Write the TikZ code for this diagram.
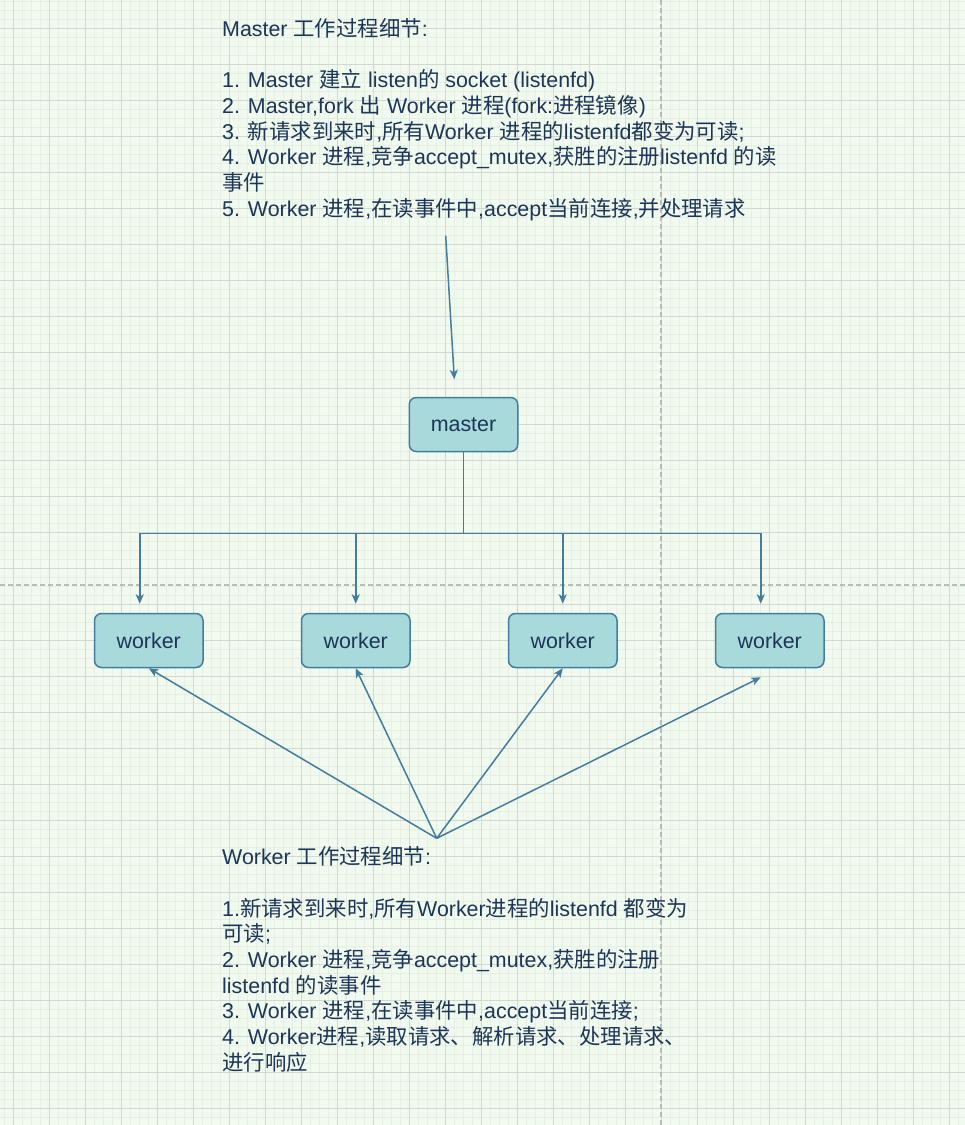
\documentclass[tikz,border=0pt]{standalone}
\usepackage{fontspec}
\setmainfont{Liberation Sans}
\newfontfamily\latinfont{Liberation Sans}
\newfontfamily\cjkfont{Noto Sans CJK SC}
\usetikzlibrary{arrows.meta,calc}
\newcount\cjkcnt
\newXeTeXintercharclass\cjkclass
\def\setcjkrange#1#2{\cjkcnt=#1\relax\loop\XeTeXcharclass\cjkcnt=\cjkclass\advance\cjkcnt by 1\relax\ifnum\cjkcnt<#2\relax\repeat}
\setcjkrange{"4E00}{"A000}
\setcjkrange{"3000}{"3040}
\setcjkrange{"FF00}{"FFF0}
\XeTeXinterchartoks 0 \cjkclass = {\cjkfont}
\XeTeXinterchartoks 4095 \cjkclass = {\cjkfont}
\XeTeXinterchartoks \cjkclass 0 = {\latinfont}
\XeTeXinterchartoks \cjkclass 4095 = {\latinfont}
\XeTeXinterchartokenstate=1
\definecolor{bg}{HTML}{F1FAEE}
\definecolor{gridmin}{HTML}{E7EFE4}
\definecolor{gridmaj}{HTML}{D2D8D1}
\definecolor{pagebrk}{HTML}{BBBBBB}
\definecolor{nfill}{HTML}{A8DADC}
\definecolor{nstroke}{HTML}{457B9D}
\definecolor{ntext}{HTML}{1D3557}
\begin{document}
\begin{tikzpicture}[x=1pt,y=-1pt,
  proc/.style={draw=nstroke,fill=nfill,line width=1.5pt,rounded corners=7pt,
    minimum width=108.5pt,minimum height=54pt,inner sep=0pt,
    font=\fontsize{21.4}{25.7}\selectfont,text=ntext},
  conn/.style={draw=nstroke,line width=1.5pt,-{Stealth[length=9.5pt,width=8pt,inset=2.5pt]}},
  note/.style={anchor=north west,inner sep=0pt,align=left,text=ntext,
    font=\fontsize{21.4}{25.7}\selectfont},
  gmin/.style={draw=gridmin,line width=1pt},
  gmaj/.style={draw=gridmaj,line width=1pt},
  pbreak/.style={draw=pagebrk,line width=1.2pt,dash pattern=on 5pt off 3pt}]
\useasboundingbox (0,0) rectangle (965,1125);
\fill[bg] (0,0) rectangle (965,1125);
\foreach \i in {0,...,106} \draw[gmin] ({4.3+9*\i},0) -- ({4.3+9*\i},1125);
\foreach \i in {0,...,124} \draw[gmin] (0,{1.3+9*\i}) -- (965,{1.3+9*\i});
\foreach \i in {0,...,26} \draw[gmaj] ({13.3+36*\i},0) -- ({13.3+36*\i},1125);
\foreach \i in {0,...,30} \draw[gmaj] (0,{28.3+36*\i}) -- (965,{28.3+36*\i});
\draw[pbreak] (0,585) -- (965,585);
\draw[pbreak] (661,0) -- (661,1125);

\node[note] (mnote) at (222,16) {\rule{0pt}{20pt}Master 工作过程细节:\\
\\
1. Master 建立 listen的 socket (listenfd)\\
2. Master,fork 出 Worker 进程(fork:进程镜像)\\
3. 新请求到来时,所有Worker 进程的listenfd都变为可读;\\
4. Worker 进程,竞争accept\_mutex,获胜的注册listenfd 的读\\
事件\\
5. Worker 进程,在读事件中,accept当前连接,并处理请求};

\node[note] (wnote) at (222,844.5) {\rule{0pt}{20pt}Worker 工作过程细节:\\
\\
1.新请求到来时,所有Worker进程的listenfd 都变为\\
可读;\\
2. Worker 进程,竞争accept\_mutex,获胜的注册\\
listenfd 的读事件\\
3. Worker 进程,在读事件中,accept当前连接;\\
4. Worker进程,读取请求、解析请求、处理请求、\\
进行响应};

\node[proc] (master) at (463.5,424.5) {master};
\node[proc] (w1) at (148.75,640.5) {worker};
\node[proc] (w2) at (355.75,640.5) {worker};
\node[proc] (w3) at (562.75,640.5) {worker};
\node[proc] (w4) at (769.75,640.5) {worker};

\coordinate (mt) at (445.7,235.7);
\coordinate (mh) at (454.3,379.3);
\draw[conn] (mt) -- (mh);

\coordinate (t1) at ($(w1.north)+(-9,-9)$);
\coordinate (t2) at ($(w2.north)+(0,-9)$);
\coordinate (t3) at ($(w3.north)+(0,-9)$);
\coordinate (t4) at ($(w4.north)+(-9,-9)$);
\foreach \t in {t1,t2,t3,t4}
  \draw[conn] (master.south) -- ++(0,81) -| (\t);

\coordinate (hub) at (436.7,838.3);
\coordinate (b4) at ($(w4.south)+(-9,9)$);
\draw[conn] (hub) -- (w1.south);
\draw[conn] (hub) -- (w2.south);
\draw[conn] (hub) -- (w3.south);
\draw[conn] (hub) -- (b4);
\end{tikzpicture}
\end{document}
